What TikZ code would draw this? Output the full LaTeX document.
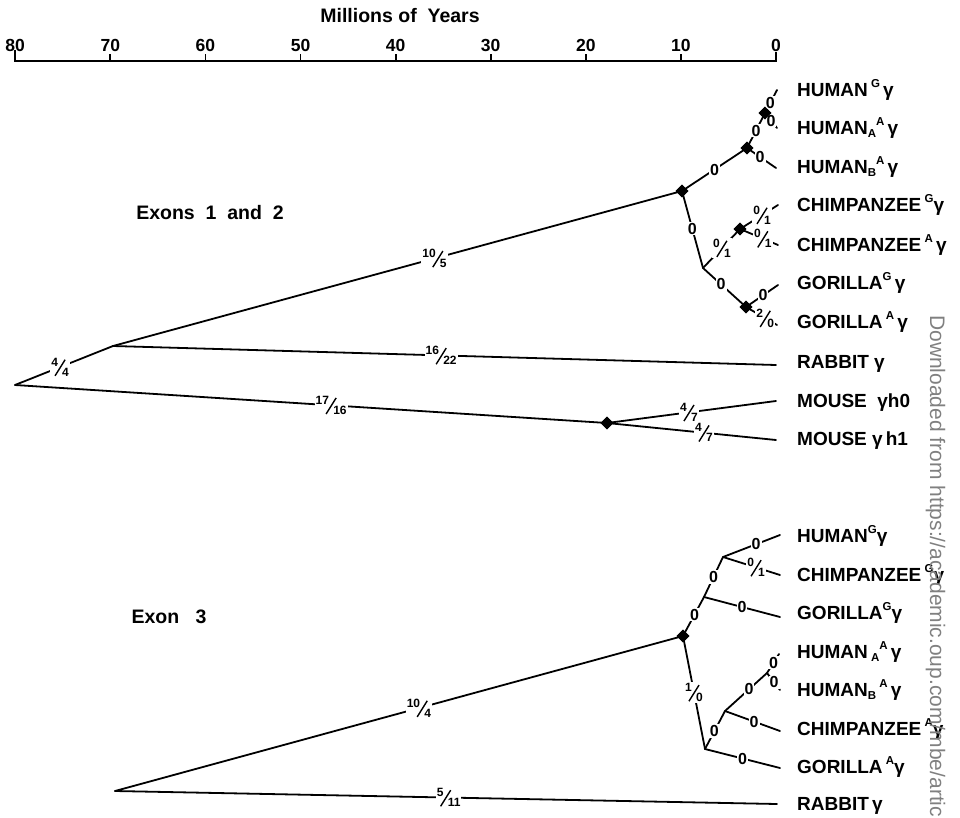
\documentclass[tikz,border=0pt]{standalone}
\usepackage{fontspec}
\usepackage{graphicx}
\setmainfont{Liberation Sans}
\usetikzlibrary{shapes.geometric}
\newcommand\slsh{\raisebox{-4.5pt}{\rotatebox{58}{\rule{19pt}{1.4pt}}}}
\newcommand\fr[2]{\mbox{\raisebox{5.5pt}{\fontsize{12}{12}\selectfont #1}\kern-3.5pt\slsh\kern-3.5pt\raisebox{-4.5pt}{\fontsize{12}{12}\selectfont #2}}}
\newcommand\up[1]{\raisebox{0.48em}{\fontsize{11.5}{11.5}\selectfont #1}}
\newcommand\dn[1]{\raisebox{-0.18em}{\fontsize{11.5}{11.5}\selectfont #1}}
\begin{document}
\begin{tikzpicture}[x=1pt,y=-1pt,
  br/.style={line width=1.8pt, line join=round, line cap=round},
  dia/.style={diamond, fill=black, inner sep=0pt, minimum size=13pt},
  lab/.style={fill=white, inner sep=1pt, font=\bfseries\fontsize{16}{16}\selectfont},
  sp/.style={anchor=base west, inner sep=0pt, font=\bfseries\fontsize{19}{19}\selectfont},
  num/.style={inner sep=0pt, font=\bfseries\fontsize{17.5}{17.5}\selectfont},
  ttl/.style={inner sep=0pt, font=\bfseries\fontsize{19.5}{19.5}\selectfont}]
\useasboundingbox (0,0) rectangle (960,818);

% axis
\node[ttl] (axt) at (400,16) {Millions of\ \ Years};
\draw[line width=2.4pt] (15,50) -- (15,61) -- (776,61) -- (776,52);
\foreach \v in {1,...,7} {\draw[line width=1.8pt] ({776-95.1*\v},61) -- ({776-95.1*\v},54);}
\foreach \v in {0,...,8} {\node[num] (t\v) at ({776-95.1*\v},45) {\the\numexpr\v*10\relax};}

\node[ttl] (ex12) at (210,213) {Exons\ \ 1\ \ and\ \ 2};
\node[ttl] (ex3) at (169,617) {Exon\ \ \ 3};

% ---------- upper tree ----------
\coordinate (R1) at (15,385);
\coordinate (A) at (113,346);
\node[dia] (P) at (682,191) {};
\node[dia] (Mo) at (607,423) {};
\coordinate (rb1) at (776,365);
\coordinate (h0) at (776,401);
\coordinate (h1) at (776,440);
\node[dia] (H) at (747,148) {};
\node[dia] (HN) at (765,113) {};
\coordinate (hbE) at (776,168);
\coordinate (hgE) at (777,90);
\coordinate (haE) at (777,128);
\coordinate (Q) at (703,268);
\node[dia] (C) at (740,229) {};
\coordinate (cgE) at (778,205);
\coordinate (caE) at (778,245);
\node[dia] (Gn) at (746,307) {};
\coordinate (ggE) at (778,285);
\coordinate (gaE) at (777,325);

\draw[br] (R1) -- node[lab,pos=.46]{\fr44} (A);
\draw[br] (A) -- node[lab,pos=.565]{\fr{10}{5}} (P.center);
\draw[br] (A) -- node[lab,pos=.495]{\fr{16}{22}} (rb1);
\draw[br] (R1) -- node[lab,pos=.534]{\fr{17}{16}} (Mo.center);
\draw[br] (Mo.center) -- node[lab,pos=.485]{\fr47} (h0);
\draw[br] (Mo.center) -- node[lab,pos=.574]{\fr47} (h1);
\draw[br] (P.center) -- node[lab,pos=.5]{0} (H.center);
\draw[br] (H.center) -- node[lab,pos=.45]{0} (hbE);
\draw[br] (H.center) -- node[lab,pos=.5]{0} (HN.center);
\draw[br] (HN.center) -- node[lab,pos=.45]{0} (hgE);
\draw[br] (HN.center) -- node[lab,pos=.5]{0} (haE);
\draw[br] (P.center) -- node[lab,pos=.49]{0} (Q);
\draw[br] (Q) -- node[lab,pos=.51]{\fr01} (C.center);
\draw[br] (C.center) -- node[lab,pos=.58]{\fr01} (cgE);
\draw[br] (C.center) -- node[lab,pos=.6]{\fr01} (caE);
\draw[br] (Q) -- node[lab,pos=.42]{0} (Gn.center);
\draw[br] (Gn.center) -- node[lab,pos=.53]{0} (ggE);
\draw[br] (Gn.center) -- node[lab,pos=.62]{\fr20} (gaE);
\foreach \n in {P,Mo,H,HN,C,Gn} {\node[dia] at (\n) {};}

\node[sp] (s1) at (797,96.5) {HUMAN\,\up{G}\,γ};
\node[sp] (s2) at (797,134.5) {HUMAN\dn{A}\up{A}\,γ};
\node[sp] (s3) at (797,173.5) {HUMAN\dn{B}\up{A}\,γ};
\node[sp] (s4) at (797,211.5) {CHIMPANZEE\,\up{G}γ};
\node[sp] (s5) at (797,251.5) {CHIMPANZEE\,\up{A}\,γ};
\node[sp] (s6) at (797,289.5) {GORILLA\up{G}\,γ};
\node[sp] (s7) at (797,328.5) {GORILLA\,\up{A}\,γ};
\node[sp] (s8) at (797,368.5) {RABBIT γ};
\node[sp] (s9) at (797,407.5) {MOUSE\ \ γh0};
\node[sp] (s10) at (797,445.5) {MOUSE γ\,h1};

% ---------- lower tree ----------
\coordinate (R2) at (115,791);
\node[dia] (P2) at (683,636) {};
\coordinate (rb2) at (777,804);
\coordinate (N1) at (704,597);
\coordinate (N2) at (723,557);
\coordinate (hg2) at (780,535);
\coordinate (cg2) at (780,575);
\coordinate (gg2) at (780,617);
\coordinate (M1) at (705,749);
\coordinate (M2) at (725,711);
\coordinate (M3) at (767,673);
\coordinate (ha2) at (779,654);
\coordinate (hb2) at (780,690);
\coordinate (ca2) at (780,731);
\coordinate (ga2) at (780,768);

\draw[br] (R2) -- node[lab,pos=.535]{\fr{10}{4}} (P2.center);
\draw[br] (R2) -- node[lab,pos=.504]{\fr{5}{11}} (rb2);
\draw[br] (P2.center) -- node[lab,pos=.55]{0} (N1);
\draw[br] (N1) -- node[lab,pos=.5]{0} (N2);
\draw[br] (N2) -- node[lab,pos=.58]{0} (hg2);
\draw[br] (N2) -- node[lab,pos=.58]{\fr01} (cg2);
\draw[br] (N1) -- node[lab,pos=.5]{0} (gg2);
\draw[br] (P2.center) -- node[lab,pos=.5]{\fr10} (M1);
\draw[br] (M1) -- node[lab,pos=.47]{0} (M2);
\draw[br] (M2) -- node[lab,pos=.57]{0} (M3);
\draw[br] (M3) -- node[lab,pos=.55]{0} (ha2);
\draw[br] (M3) -- node[lab,pos=.55]{0} (hb2);
\draw[br] (M2) -- node[lab,pos=.53]{0} (ca2);
\draw[br] (M1) -- node[lab,pos=.5]{0} (ga2);
\node[dia] at (P2) {};

\node[sp] (u1) at (797,542.5) {HUMAN\up{G}γ};
\node[sp] (u2) at (797,581.5) {CHIMPANZEE\,\up{G}γ};
\node[sp] (u3) at (797,619.5) {GORILLA\up{G}γ};
\node[sp] (u4) at (797,658.5) {HUMAN\,\dn{A}\up{A}\,γ};
\node[sp] (u5) at (797,696.5) {HUMAN\dn{B}\,\up{A}\,γ};
\node[sp] (u6) at (797,735.5) {CHIMPANZEE\,\up{A}γ};
\node[sp] (u7) at (797,773.5) {GORILLA\,\up{A}γ};
\node[sp] (u8) at (797,810.5) {RABBIT\,γ};

% watermark
\node[rotate=-90, anchor=base west, inner sep=0pt, text=black!50, font=\fontsize{21}{21}\selectfont] (wm) at (930,315) {Downloaded from https://academic.oup.com/mbe/artic};
\end{tikzpicture}
\end{document}
